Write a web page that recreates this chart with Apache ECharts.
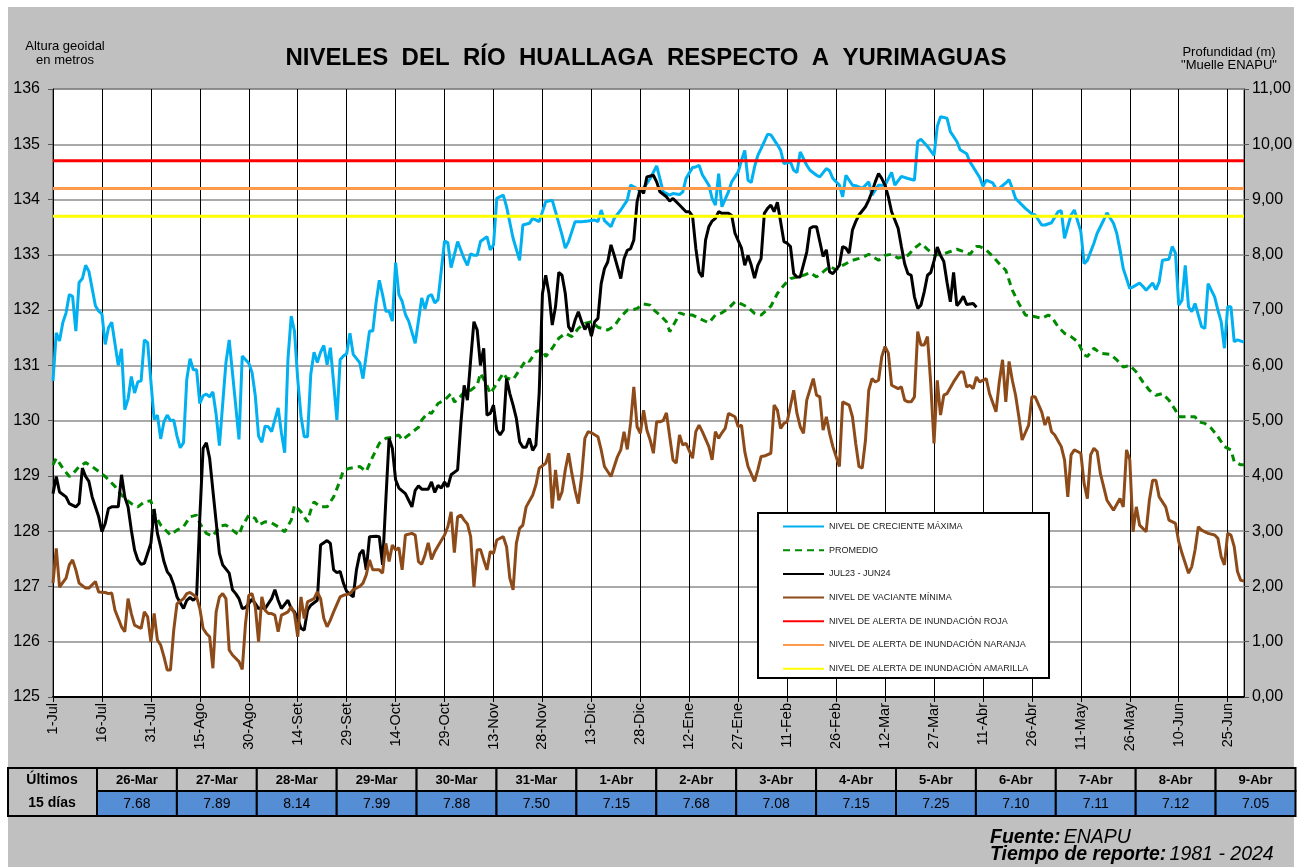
<!DOCTYPE html>
<html>
<head>
<meta charset="utf-8">
<title>Niveles del río Huallaga respecto a Yurimaguas</title>
<script src="https://cdn.jsdelivr.net/npm/echarts@6/dist/echarts.min.js"></script>
<style>
  html, body { margin: 0; padding: 0; background: #fff; }
  #chart { width: 1302px; height: 867px; }
</style>
</head>
<body>
<div id="chart"></div>
<script>
// etiquetas del eje X (una cada 15 días, desde el 1-Jul)
const etiquetasX = ['1-Jul', '16-Jul', '31-Jul', '15-Ago', '30-Ago', '14-Set', '29-Set', '14-Oct', '29-Oct',
  '13-Nov', '28-Nov', '13-Dic', '28-Dic', '12-Ene', '27-Ene', '11-Feb', '26-Feb', '12-Mar', '27-Mar',
  '11-Abr', '26-Abr', '11-May', '26-May', '10-Jun', '25-Jun']

// [día desde el 1-Jul, altura geoidal (m)]
const maxima = [[0,130.72],[1,131.59],[2,131.44],[3,131.77],[4,131.95],[5,132.28],[6,132.25],[7,131.62],[8,132.5],[9,132.57],[10,132.81],[11,132.7],[13,132.08],[14,131.98],[15,131.93],[16,131.38],[17,131.68],[18,131.78],[20,131.0],[21,131.3],[22,130.2],[23,130.39],[24,130.8],[25,130.5],[26,130.7],[27,130.72],[28,131.46],[29,131.41],[31,130.02],[32,130.1],[33,129.67],[34,129.98],[35,130.1],[36,130.0],[37,130.01],[38,129.72],[39,129.51],[40,129.6],[41,130.75],[42,131.12],[43,130.92],[44,130.92],[45,130.31],[46,130.45],[47,130.48],[48,130.43],[49,130.52],[50,130.11],[51,129.55],[53,131.05],[54,131.46],[56,130.27],[57,129.66],[58,131.17],[60,131.04],[61,130.87],[62,130.45],[63,129.72],[64,129.61],[65,129.9],[66,129.89],[67,129.8],[69,130.23],[70,129.78],[71,129.42],[72,131.11],[73,131.89],[74,131.62],[75,130.75],[76,130.08],[77,129.71],[78,129.71],[79,130.84],[80,131.24],[81,131.05],[82,131.24],[83,131.36],[84,131.01],[85,131.32],[86,130.69],[87,130.01],[88,131.1],[89,131.17],[90,131.21],[91,131.58],[92,131.2],[94,131.05],[95,130.76],[97,131.62],[98,131.62],[99,132.13],[100,132.54],[101,132.28],[102,131.98],[103,131.98],[104,131.8],[105,132.86],[106,132.28],[107,132.16],[108,131.92],[109,131.8],[111,131.4],[113,132.22],[114,132.02],[115,132.25],[116,132.28],[117,132.13],[118,132.19],[120,133.25],[121,133.22],[122,132.77],[123,133.0],[124,133.24],[126,132.93],[127,132.81],[128,133.02],[129,132.99],[130,132.99],[131,133.24],[133,133.33],[134,133.09],[135,133.18],[136,134.02],[138,134.08],[139,133.87],[141,133.3],[143,132.9],[144,133.54],[146,133.57],[147,133.66],[149,133.6],[151,133.96],[153,133.99],[154,133.78],[156,133.36],[157,133.12],[158,133.24],[159,133.42],[160,133.6],[162,133.6],[164,133.61],[166,133.63],[167,133.6],[168,133.81],[169,133.62],[171,133.51],[172,133.66],[174,133.81],[176,133.99],[177,134.26],[179,134.2],[180,134.14],[182,134.29],[183,134.38],[185,134.61],[186,134.38],[187,134.14],[189,134.08],[190,134.11],[192,134.09],[193,134.14],[194,134.38],[196,134.58],[197,134.59],[198,134.62],[199,134.45],[201,134.26],[202,134.02],[203,133.9],[204,134.47],[205,133.87],[207,134.14],[208,134.32],[210,134.5],[211,134.71],[212,134.89],[213,134.35],[214,134.31],[215,134.59],[216,134.8],[217,134.92],[219,135.18],[220,135.17],[222,134.99],[223,134.89],[224,134.65],[226,134.68],[227,134.53],[228,134.49],[229,134.86],[231,134.62],[232,134.53],[234,134.44],[235,134.41],[237,134.56],[238,134.52],[239,134.38],[241,134.26],[242,134.05],[243,134.44],[245,134.26],[246,134.25],[248,134.2],[250,134.32],[251,134.08],[253,134.26],[255,134.26],[257,134.49],[258,134.26],[260,134.42],[262,134.38],[264,134.35],[265,135.05],[266,135.09],[268,134.96],[270,134.8],[271,135.32],[272,135.5],[274,135.47],[275,135.23],[277,135.05],[278,134.9],[280,134.83],[281,134.68],[282,134.59],[284,134.4],[285,134.24],[286,134.35],[288,134.3],[289,134.2],[290,134.2],[292,134.3],[293,134.36],[294,134.2],[295,134.02],[298,133.84],[300,133.74],[301,133.72],[303,133.54],[304,133.54],[306,133.58],[308,133.78],[309,133.8],[310,133.3],[312,133.72],[313,133.81],[315,133.42],[316,132.84],[317,132.9],[319,133.21],[320,133.39],[322,133.63],[323,133.76],[325,133.57],[326,133.39],[327,133.09],[328,132.75],[330,132.39],[331,132.42],[333,132.49],[334,132.43],[335,132.36],[337,132.49],[338,132.37],[339,132.51],[340,132.9],[342,132.92],[343,133.15],[344,133.03],[345,132.09],[346,132.18],[347,132.81],[348,132.06],[349,131.97],[350,132.12],[352,131.7],[353,131.67],[354,132.48],[356,132.24],[357,132.0],[358,131.79],[359,131.31],[360,132.06],[361,132.06],[362,131.43],[363,131.46],[365,131.42]]

const promedio = [[0,129.2],[1,129.32],[3,129.14],[5,128.99],[6,129.03],[8,129.17],[10,129.24],[12,129.17],[14,129.08],[16,128.99],[17,128.93],[19,128.81],[20,128.72],[22,128.59],[24,128.5],[26,128.44],[28,128.53],[30,128.55],[31,128.32],[33,128.11],[36,127.93],[38,128.02],[40,128.08],[42,128.26],[44,128.29],[45,128.14],[47,127.96],[49,127.91],[51,128.09],[53,128.11],[55,128.02],[57,127.93],[58,128.09],[60,128.29],[62,128.23],[63,128.11],[65,128.17],[67,128.15],[69,128.08],[71,127.99],[73,128.2],[74,128.47],[76,128.35],[78,128.17],[79,128.38],[80,128.53],[82,128.44],[84,128.44],[86,128.62],[88,128.92],[89,129.1],[91,129.14],[94,129.17],[96,129.08],[98,129.35],[100,129.59],[102,129.68],[104,129.7],[106,129.74],[107,129.65],[109,129.74],[112,129.88],[113,130.01],[115,130.15],[116,130.13],[118,130.31],[120,130.37],[122,130.49],[123,130.34],[124,130.37],[126,130.52],[128,130.55],[130,130.64],[131,130.86],[133,130.64],[134,130.49],[136,130.67],[138,130.86],[139,130.77],[141,130.74],[143,130.92],[145,131.1],[146,131.07],[148,131.25],[150,131.28],[151,131.16],[153,131.31],[155,131.49],[157,131.58],[159,131.52],[161,131.67],[163,131.76],[165,131.79],[167,131.69],[170,131.64],[172,131.71],[174,131.88],[176,132.0],[178,132.01],[179,132.03],[181,132.11],[183,132.09],[184,132.01],[186,131.91],[188,131.79],[189,131.61],[191,131.82],[192,131.95],[194,131.91],[196,131.91],[198,131.85],[201,131.77],[203,131.91],[205,131.95],[207,132.03],[209,132.15],[211,132.11],[213,132.05],[215,131.94],[217,131.91],[220,132.07],[222,132.3],[224,132.45],[226,132.57],[228,132.6],[230,132.63],[232,132.68],[234,132.6],[236,132.69],[238,132.79],[240,132.73],[242,132.81],[245,132.9],[248,132.95],[250,133.01],[253,132.9],[255,132.99],[257,133.01],[259,132.94],[262,132.99],[264,133.12],[266,133.21],[268,133.1],[270,133.0],[272,133.0],[275,133.06],[277,133.1],[279,133.06],[281,133.01],[283,133.15],[284,133.15],[286,133.09],[288,132.97],[290,132.84],[292,132.72],[294,132.36],[296,132.12],[298,131.91],[301,131.88],[303,131.85],[305,131.91],[306,131.88],[308,131.7],[310,131.58],[312,131.52],[314,131.43],[316,131.19],[317,131.16],[319,131.31],[321,131.22],[324,131.2],[326,131.1],[328,130.97],[330,131.0],[332,130.88],[334,130.7],[336,130.55],[338,130.46],[340,130.49],[342,130.37],[344,130.19],[345,130.07],[347,130.07],[350,130.07],[351,129.98],[353,129.95],[355,129.86],[357,129.71],[359,129.53],[361,129.47],[362,129.26],[364,129.2],[365,129.2]]

const actual = [[0,128.68],[1,128.99],[2,128.71],[4,128.62],[5,128.5],[7,128.44],[8,128.5],[9,129.14],[10,128.99],[11,128.9],[12,128.62],[14,128.26],[15,127.99],[16,128.14],[17,128.41],[18,128.44],[20,128.44],[21,129.02],[22,128.62],[23,128.44],[24,128.02],[25,127.66],[26,127.48],[27,127.4],[28,127.42],[30,127.78],[31,128.4],[32,127.96],[33,127.72],[34,127.45],[35,127.27],[36,127.19],[37,127.03],[38,126.81],[40,126.6],[41,126.75],[42,126.8],[43,126.75],[44,126.81],[45,128.26],[46,129.5],[47,129.6],[48,129.32],[49,128.74],[50,128.17],[51,127.6],[52,127.39],[54,127.24],[55,126.94],[56,126.87],[57,126.78],[58,126.6],[59,126.62],[60,126.69],[61,126.77],[62,126.69],[63,126.6],[64,126.62],[65,126.6],[66,126.69],[67,126.78],[68,126.94],[69,126.75],[70,126.6],[72,126.75],[73,126.6],[74,126.54],[75,126.42],[76,126.24],[77,126.21],[78,126.57],[79,126.66],[81,126.75],[82,127.75],[83,127.79],[84,127.83],[85,127.78],[86,127.3],[87,127.25],[88,127.27],[89,127.06],[90,126.91],[92,126.81],[93,127.3],[94,127.59],[95,127.66],[96,127.3],[97,127.9],[99,127.91],[100,127.9],[101,127.39],[102,128.56],[103,129.68],[104,129.5],[105,128.93],[106,128.78],[108,128.68],[109,128.56],[110,128.44],[111,128.74],[112,128.82],[113,128.76],[115,128.76],[116,128.89],[117,128.7],[118,128.83],[119,128.78],[120,128.89],[121,128.8],[122,129.02],[124,129.11],[125,129.95],[126,130.64],[127,130.37],[128,131.1],[129,131.79],[130,131.64],[131,131.0],[132,131.31],[133,130.1],[134,130.13],[135,130.28],[136,129.83],[137,129.74],[138,129.83],[139,130.76],[140,130.49],[141,130.28],[142,130.04],[143,129.62],[144,129.52],[145,129.52],[146,129.68],[147,129.46],[148,129.56],[149,130.5],[150,132.3],[151,132.63],[152,132.3],[153,131.73],[154,132.06],[155,132.68],[156,132.63],[157,132.3],[158,131.7],[159,131.61],[160,131.82],[161,131.97],[162,131.79],[163,131.65],[164,131.76],[165,131.53],[166,131.79],[167,131.85],[168,132.48],[169,132.75],[170,132.87],[171,133.18],[172,132.99],[174,132.57],[175,132.93],[176,133.08],[177,133.11],[178,133.27],[179,133.96],[180,134.2],[181,134.11],[182,134.41],[184,134.44],[185,134.32],[186,134.14],[188,134.05],[189,133.97],[190,134.02],[191,133.96],[192,133.9],[194,133.78],[195,133.78],[196,133.7],[197,133.12],[198,132.69],[199,132.6],[200,133.27],[201,133.51],[202,133.61],[203,133.66],[204,133.78],[205,133.75],[207,133.75],[208,133.71],[209,133.39],[211,133.12],[212,132.81],[213,132.99],[214,132.81],[215,132.58],[216,132.81],[217,132.93],[218,133.75],[219,133.84],[220,133.9],[221,133.78],[222,133.95],[224,133.24],[225,133.21],[226,133.15],[227,132.66],[228,132.6],[229,132.6],[231,133.05],[232,133.48],[233,133.51],[234,133.51],[235,133.24],[236,132.97],[237,133.09],[238,132.69],[239,132.66],[241,132.81],[242,133.15],[243,133.12],[244,133.03],[245,133.45],[246,133.6],[247,133.72],[249,133.87],[250,133.99],[251,134.14],[252,134.32],[253,134.47],[254,134.38],[255,134.26],[256,134.05],[257,133.78],[258,133.63],[259,133.48],[260,133.15],[261,132.84],[262,132.66],[263,132.63],[264,132.24],[265,132.03],[266,132.09],[267,132.33],[268,132.63],[269,132.68],[270,132.89],[271,133.14],[272,132.99],[273,132.88],[274,132.5],[275,132.15],[276,132.68],[277,132.08],[278,132.15],[279,132.25],[280,132.1],[281,132.11],[282,132.12],[283,132.05]]

const minima = [[0,127.06],[1,127.69],[2,126.99],[4,127.15],[5,127.39],[6,127.48],[7,127.3],[8,127.06],[10,126.97],[11,126.97],[13,127.09],[14,126.9],[16,126.89],[17,126.87],[18,126.88],[19,126.57],[21,126.27],[22,126.18],[23,126.78],[24,126.51],[25,126.3],[26,126.27],[27,126.24],[28,126.54],[29,126.45],[30,126.0],[31,126.51],[32,126.03],[33,125.94],[34,125.73],[35,125.49],[36,125.49],[37,126.21],[38,126.69],[40,126.78],[41,126.87],[42,126.89],[44,126.81],[45,126.6],[46,126.24],[47,126.15],[48,126.09],[49,125.52],[50,126.54],[51,126.81],[52,126.87],[53,126.78],[54,125.85],[55,125.76],[57,125.64],[58,125.5],[59,126.33],[60,126.84],[61,126.87],[62,126.63],[63,126.0],[64,126.81],[65,126.57],[66,126.51],[67,126.51],[68,126.48],[69,126.18],[70,126.48],[71,126.51],[72,126.54],[73,126.63],[74,126.51],[75,126.09],[76,126.81],[77,126.42],[78,126.72],[80,126.78],[81,126.9],[82,126.78],[83,126.42],[84,126.27],[85,126.39],[86,126.54],[88,126.81],[89,126.84],[91,126.87],[92,126.94],[94,127.0],[95,127.06],[96,127.21],[97,127.48],[98,127.3],[100,127.3],[101,127.24],[102,127.78],[103,127.45],[104,127.75],[105,127.66],[106,127.7],[107,127.3],[108,127.93],[110,127.96],[111,127.93],[112,127.45],[113,127.4],[114,127.57],[115,127.79],[116,127.49],[117,127.63],[118,127.73],[120,127.93],[121,128.08],[122,128.35],[123,127.61],[124,128.26],[125,128.29],[126,128.2],[127,128.13],[128,127.9],[129,126.99],[130,127.66],[131,127.67],[132,127.48],[133,127.3],[134,127.63],[135,127.6],[136,127.84],[138,127.9],[139,127.72],[140,127.15],[141,126.94],[142,127.78],[143,128.05],[144,128.11],[145,128.44],[147,128.65],[148,128.84],[149,129.14],[151,129.23],[152,129.41],[153,128.41],[154,129.11],[155,128.56],[156,128.71],[157,129.11],[158,129.41],[159,129.05],[160,128.74],[161,128.5],[162,128.99],[163,129.68],[164,129.8],[165,129.78],[167,129.71],[168,129.47],[169,129.17],[170,129.08],[171,128.99],[172,129.17],[173,129.35],[174,129.47],[175,129.8],[176,129.48],[177,129.95],[178,130.61],[179,129.89],[180,129.77],[181,130.19],[182,129.83],[183,129.65],[184,129.41],[185,129.98],[186,129.98],[187,130.0],[188,130.14],[189,129.71],[190,129.29],[191,129.23],[192,129.74],[193,129.56],[194,129.59],[196,129.32],[197,129.8],[198,129.92],[199,129.8],[201,129.53],[202,129.29],[203,129.8],[204,129.68],[205,129.78],[206,129.86],[207,130.13],[209,130.07],[210,129.89],[211,129.92],[212,129.44],[213,129.17],[215,128.9],[216,129.11],[217,129.35],[218,129.36],[220,129.41],[221,130.28],[222,130.19],[223,129.86],[224,129.95],[225,129.98],[227,130.55],[228,130.13],[229,129.89],[230,129.77],[231,130.37],[233,130.76],[234,130.46],[235,130.43],[236,129.83],[237,130.07],[238,129.77],[239,129.53],[241,129.17],[242,130.34],[244,130.28],[245,130.07],[246,129.59],[247,129.17],[248,129.14],[249,129.65],[250,130.55],[251,130.76],[252,130.7],[253,130.73],[254,131.16],[255,131.34],[256,131.22],[257,130.64],[259,130.58],[260,130.61],[261,130.37],[262,130.34],[263,130.34],[264,130.43],[265,131.61],[266,131.37],[267,131.37],[268,131.52],[269,130.67],[270,129.59],[271,130.73],[272,130.1],[273,130.46],[274,130.49],[276,130.7],[278,130.88],[279,130.88],[280,130.61],[281,130.64],[282,130.58],[283,130.79],[284,130.7],[286,130.76],[287,130.49],[289,130.16],[290,130.7],[291,131.1],[292,130.34],[293,131.07],[294,130.73],[295,130.46],[296,130.07],[297,129.65],[299,129.92],[300,130.43],[301,130.43],[303,130.16],[304,129.92],[305,130.07],[306,129.8],[307,129.74],[309,129.53],[310,129.29],[311,128.62],[312,129.38],[313,129.47],[315,129.41],[316,128.86],[317,128.59],[318,129.38],[319,129.5],[320,129.44],[321,129.04],[323,128.56],[324,128.47],[325,128.38],[327,128.59],[328,128.44],[329,129.47],[330,129.29],[331,127.99],[332,128.44],[333,128.11],[334,128.05],[335,127.99],[336,128.56],[337,128.92],[338,128.92],[339,128.62],[341,128.44],[342,128.2],[344,128.14],[345,127.81],[346,127.6],[347,127.42],[348,127.24],[349,127.36],[350,127.66],[351,128.08],[352,128.02],[354,127.96],[356,127.93],[357,127.87],[358,127.54],[359,127.39],[360,127.96],[361,127.93],[362,127.72],[363,127.27],[364,127.11],[365,127.1]]

// niveles de alerta (altura geoidal, m)
const alertaRoja = 134.70
const alertaNaranja = 134.20
const alertaAmarilla = 133.70

// tabla de los últimos 15 días (profundidad, m)
const fechasTabla = ['26-Mar', '27-Mar', '28-Mar', '29-Mar', '30-Mar', '31-Mar', '1-Abr', '2-Abr', '3-Abr', '4-Abr', '5-Abr', '6-Abr', '7-Abr', '8-Abr', '9-Abr']
const valoresTabla = ['7.68', '7.89', '8.14', '7.99', '7.88', '7.50', '7.15', '7.68', '7.08', '7.15', '7.25', '7.10', '7.11', '7.12', '7.05']

const FUENTE = '"Liberation Sans", Arial, sans-serif'

const chart = echarts.init(document.getElementById('chart'))

function linea(name, data, color, extra) {
  return Object.assign({
    name: name,
    type: 'line',
    data: data,
    symbol: 'none',
    silent: true,
    lineStyle: { color: color, width: 3 },
    itemStyle: { color: color },
  }, extra || {})
}

function horizontal(v) {
  return [[0, v], [365, v]]
}

// tabla inferior
const tabla = []
const tx0 = 97, tAncho = 79.9, tA = 768, tB = 791, tC = 816
tabla.push({
  type: 'rect', z: 10,
  shape: { x: 8, y: tA, width: tx0 - 8, height: tC - tA },
  style: { fill: '#C0C0C0', stroke: '#000', lineWidth: 2 },
})
tabla.push({
  type: 'text', z: 11,
  style: { text: 'Últimos\n15 días', x: 52, y: tA + (tC - tA) / 2, align: 'center', verticalAlign: 'middle',
    textAlign: 'center', textVerticalAlign: 'middle', lineHeight: 23, font: 'bold 14px ' + FUENTE, fill: '#000' },
})
fechasTabla.forEach((f, i) => {
  const x = tx0 + i * tAncho
  tabla.push({
    type: 'rect', z: 10,
    shape: { x: x, y: tA, width: tAncho, height: tB - tA },
    style: { fill: '#C0C0C0', stroke: '#000', lineWidth: 2 },
  })
  tabla.push({
    type: 'rect', z: 10,
    shape: { x: x, y: tB, width: tAncho, height: tC - tB },
    style: { fill: '#558ED5', stroke: '#000', lineWidth: 2 },
  })
  tabla.push({
    type: 'text', z: 11,
    style: { text: f, x: x + tAncho / 2, y: (tA + tB) / 2 + 1, align: 'center', verticalAlign: 'middle',
      textAlign: 'center', textVerticalAlign: 'middle', font: 'bold 13px ' + FUENTE, fill: '#000' },
  })
  tabla.push({
    type: 'text', z: 11,
    style: { text: valoresTabla[i], x: x + tAncho / 2, y: (tB + tC) / 2 + 1, align: 'center', verticalAlign: 'middle',
      textAlign: 'center', textVerticalAlign: 'middle', font: '14px ' + FUENTE, fill: '#000' },
  })
})

const option = {
  animation: false,
  backgroundColor: '#fff',
  title: {
    text: 'NIVELES  DEL  RÍO  HUALLAGA  RESPECTO  A  YURIMAGUAS',
    left: 641,
    textAlign: 'center',
    top: 41,
    textStyle: { fontFamily: FUENTE, fontSize: 24, fontWeight: 'bold', color: '#000' },
  },
  legend: {
    orient: 'vertical',
    left: 777,
    top: 517,
    itemWidth: 41,
    itemHeight: 10,
    itemGap: 14.7,
    z: 20,
    selectedMode: false,
    itemStyle: { opacity: 0 },
    textStyle: { fontFamily: FUENTE, fontSize: 9, color: '#222' },
    data: ['NIVEL DE CRECIENTE MÁXIMA', 'PROMEDIO', 'JUL23 - JUN24', 'NIVEL DE VACIANTE MÍNIMA',
      'NIVEL DE ALERTA DE INUNDACIÓN ROJA', 'NIVEL DE ALERTA DE INUNDACIÓN NARANJA', 'NIVEL DE ALERTA DE INUNDACIÓN AMARILLA'],
  },
  grid: {
    left: 53, right: 58, top: 89, bottom: 170,
    show: true, backgroundColor: '#fff', borderColor: '#404040', borderWidth: 1,
  },
  xAxis: {
    type: 'value',
    min: 0, max: 365, interval: 15,
    axisLine: { show: true, lineStyle: { color: '#000', width: 2 } },
    axisTick: { show: true, length: 5, lineStyle: { color: '#000' } },
    axisLabel: {
      rotate: 90, margin: 6, fontFamily: FUENTE, fontSize: 14.5, color: '#000',
      showMaxLabel: false,
      formatter: v => (v % 15 === 0 ? etiquetasX[v / 15] : ''),
    },
    splitLine: { show: true, lineStyle: { color: '#000', width: 1 } },
  },
  yAxis: [
    {
      type: 'value', position: 'left',
      min: 125, max: 136, interval: 1,
      axisLine: { show: true, lineStyle: { color: '#000' } },
      axisTick: { show: true, length: 5, lineStyle: { color: '#555' } },
      axisLabel: { margin: 13, fontFamily: FUENTE, fontSize: 16, color: '#000' },
      splitLine: { show: true, lineStyle: { color: '#8C8C8C', width: 1.5 } },
    },
    {
      type: 'value', position: 'right',
      min: 0, max: 11, interval: 1,
      axisLine: { show: true, lineStyle: { color: '#000' } },
      axisTick: { show: true, length: 5, lineStyle: { color: '#555' } },
      axisLabel: {
        margin: 8, fontFamily: FUENTE, fontSize: 16, color: '#000',
        formatter: v => v.toFixed(2).replace('.', ','),
      },
      splitLine: { show: false },
    },
  ],
  graphic: [
    {
      type: 'rect', z: -100, silent: true,
      shape: { x: 8, y: 7, width: 1286, height: 860 },
      style: { fill: '#C0C0C0' },
    },
    {
      type: 'text', z: 5,
      style: { text: 'Altura geoidal\nen metros', x: 65, y: 53, align: 'center', verticalAlign: 'middle',
        textAlign: 'center', textVerticalAlign: 'middle', lineHeight: 14, font: '13px ' + FUENTE, fill: '#000' },
    },
    {
      type: 'text', z: 5,
      style: { text: 'Profundidad (m)\n"Muelle ENAPU"', x: 1229, y: 59, align: 'center', verticalAlign: 'middle',
        textAlign: 'center', textVerticalAlign: 'middle', lineHeight: 13, font: '13px ' + FUENTE, fill: '#000' },
    },
    {
      type: 'rect', z: 15, silent: true,
      shape: { x: 758, y: 513, width: 291, height: 165 },
      style: { fill: '#fff', stroke: '#000', lineWidth: 2 },
    },
    {
      type: 'text', z: 5,
      style: {
        x: 990, y: 829,
        text: '{b|Fuente:} {i|ENAPU}\n{b|Tiempo de reporte:} {i|1981 - 2024}',
        rich: {
          b: { font: 'italic bold 19.5px ' + FUENTE, fill: '#000', lineHeight: 17 },
          i: { font: 'italic 19.5px ' + FUENTE, fill: '#000', lineHeight: 17 },
        },
      },
    },
    ...tabla,
  ],
  series: [
    linea('NIVEL DE CRECIENTE MÁXIMA', maxima, '#00B0F0'),
    linea('PROMEDIO', promedio, '#008A00', { lineStyle: { color: '#008A00', width: 3, type: [7, 5] } }),
    linea('JUL23 - JUN24', actual, '#000000'),
    linea('NIVEL DE VACIANTE MÍNIMA', minima, '#8E4B1A'),
    linea('NIVEL DE ALERTA DE INUNDACIÓN ROJA', horizontal(alertaRoja), '#FF0000'),
    linea('NIVEL DE ALERTA DE INUNDACIÓN NARANJA', horizontal(alertaNaranja), '#FF9A4D'),
    linea('NIVEL DE ALERTA DE INUNDACIÓN AMARILLA', horizontal(alertaAmarilla), '#FFFF00'),
  ],
}

chart.setOption(option)
</script>
</body>
</html>
